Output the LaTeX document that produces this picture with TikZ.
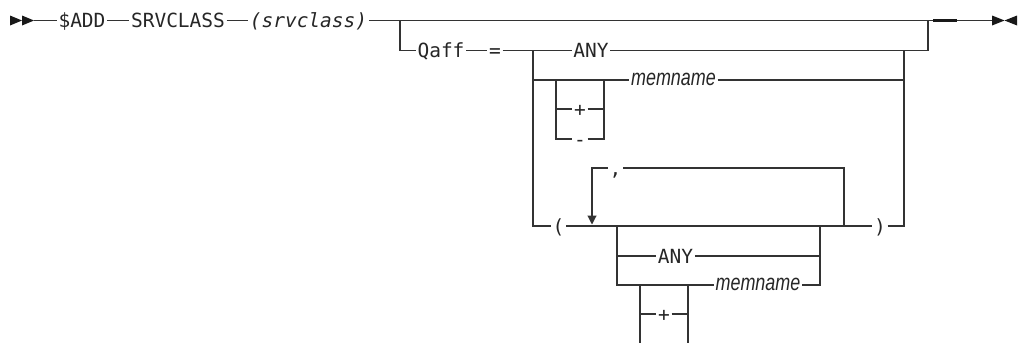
\documentclass[tikz,border=0pt]{standalone}
\usepackage{fontspec}
\setmonofont{DejaVu Sans Mono}
\newfontfamily\memfont{Liberation Sans}[FakeStretch=0.78]
\usepackage{tikz}
\usetikzlibrary{arrows.meta}
\tikzset{
  kw/.style={font=\ttfamily\fontsize{19.5}{19.5}\selectfont, inner sep=0pt,
    inner xsep=1.5pt, text height=14.2pt, text depth=0pt, text=black!85},
  argv/.style={kw, font=\ttfamily\itshape\fontsize{19.5}{19.5}\selectfont},
  memb/.style={font=\memfont\itshape\fontsize{23}{23}\selectfont, inner sep=0pt,
    inner xsep=1.5pt, text height=11.9pt, text depth=0pt, text=black!85},
  rail/.style={line width=1.1pt, draw=black!80},
  endrail/.style={line width=2.6pt, draw=black!90},
  endtip/.style={fill=black!90},
  backrail/.style={rail, -{Triangle[width=9pt,length=9pt]}}
}

\begin{document}
\begin{tikzpicture}[x=1pt,y=-1pt]
  \useasboundingbox (0,0) rectangle (1021,343);
  % junctions
  \coordinate (bgn) at (10,20.5);
  \coordinate (entry) at (34,20.5);
  \coordinate (optL) at (400,20.5);
  \coordinate (optR) at (928,20.5);
  \coordinate (thkA) at (933,20.5);
  \coordinate (thkB) at (957,20.5);
  \coordinate (fin) at (992,20.5);
  \coordinate (chL) at (533,50.5);
  \coordinate (chR) at (904,50.5);
  \coordinate (sgnL) at (556,80);
  \coordinate (sgnR) at (604,80);
  \coordinate (arwEnd) at (592,224.5);
  \coordinate (repR) at (844,226);
  \coordinate (inL) at (617,226);
  \coordinate (inR) at (820,226);
  \coordinate (sgnbL) at (640,285);
  \coordinate (sgnbR) at (688,285);
  \coordinate (cutL) at (640,343);
  \coordinate (cutR) at (688,343);

  % texts
  \node[kw] (add) at (82,20.5) {\$ADD};
  \node[kw] (srv) at (178,20.5) {SRVCLASS};
  \node[argv] (cls) at (308.5,20.5) {(srvclass)};
  \node[kw] (qaff) at (441,50.5) {Qaff};
  \node[kw] (eq) at (495,50.5) {=};
  \node[kw] (any) at (591,50.5) {ANY};
  \node[memb] (mem) at (673.5,80) {memname};
  \node[kw] (plus) at (580,109) {+};
  \node[kw] (minus) at (580,139) {-};
  \node[kw] (lpar) at (558.5,226) {(};
  \node[kw] (comma) at (615.5,168) {,};
  \node[kw] (rpar) at (880,226) {)};
  \node[kw] (anyb) at (675.5,256) {ANY};
  \node[memb] (memin) at (758,285) {memname};
  \node[kw] (plusb) at (664,314) {+};

  % ends
  \fill[endtip] (bgn) -- ++(0,-5) -- ++(12,5) -- ++(-12,5) -- cycle;
  \fill[endtip] ([xshift=12pt]bgn) -- ++(0,-5) -- ++(12,5) -- ++(-12,5) -- cycle;
  \fill[endtip] (fin) -- ++(0,-5) -- ++(12.5,5) -- ++(-12.5,5) -- cycle;
  \fill[endtip] ([xshift=25pt]fin) -- ++(0,-5) -- ++(-12.5,5) -- ++(12.5,5) -- cycle;

  % main line
  \draw[rail] (entry) -- (add.west) (add.east) -- (srv.west) (srv.east) -- (cls.west)
    (cls.east) -- (optR) -- (thkA) (thkB) -- (fin);
  \draw[endrail] (thkA) -- (thkB);

  % Qaff branch
  \draw[rail] (optL) |- (qaff.west) (qaff.east) -- (eq.west) (eq.east) -- (chL)
    -- (any.west) (any.east) -| (optR);
  \draw[rail] (chL) |- (lpar.west) (lpar.east) -- (rpar.west) (rpar.east) -| (chR);
  \draw[rail] (chL |- sgnL) -- (sgnR) -- (mem.west) (mem.east) -- (chR |- mem);
  \draw[rail] (sgnL) |- (minus.west) (minus.east) -| (sgnR);
  \draw[rail] (sgnL |- plus) -- (plus.west) (plus.east) -- (sgnR |- plus);

  % repeat
  \draw[rail] (repR) |- (comma.east);
  \draw[backrail] (comma.west) -| (arwEnd);

  % inner choice
  \draw[rail] (inL) |- (sgnbL) -- (sgnbR) -- (memin.west) (memin.east) -| (inR);
  \draw[rail] (inL |- anyb) -- (anyb.west) (anyb.east) -- (inR |- anyb);
  \draw[rail] (sgnbL) -- (cutL) (sgnbR) -- (cutR);
  \draw[rail] (sgnbL |- plusb) -- (plusb.west) (plusb.east) -- (sgnbR |- plusb);
\end{tikzpicture}
\end{document}
